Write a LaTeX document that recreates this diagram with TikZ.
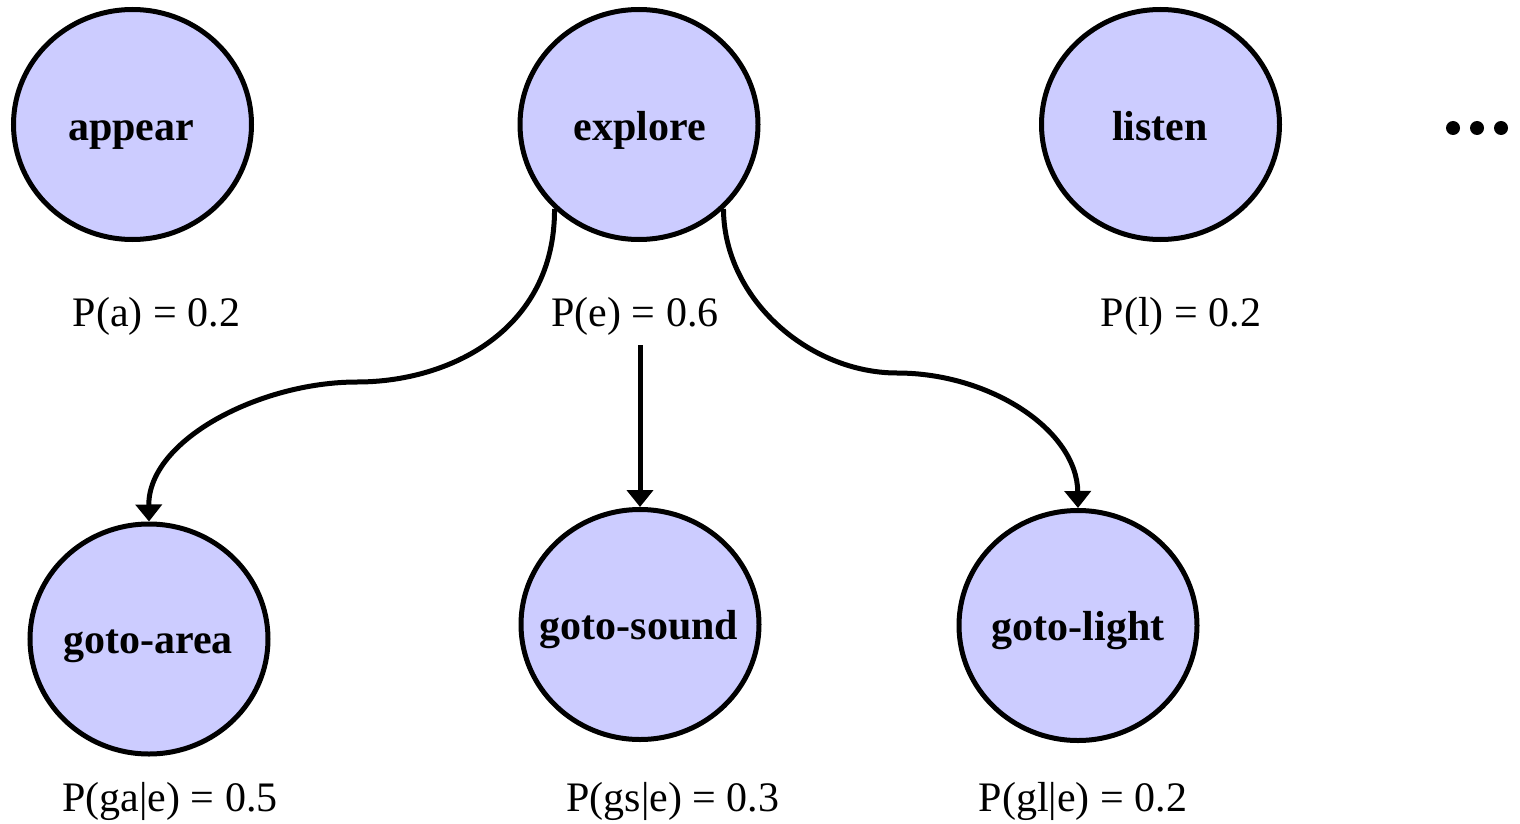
\documentclass[tikz,border=0pt]{standalone}
\usepackage{fontspec}
\setmainfont{Liberation Serif}
\usetikzlibrary{shapes.geometric,arrows.meta}
\definecolor{nodefill}{RGB}{204,204,255}
\begin{document}
\begin{tikzpicture}[x=1pt,y=-1pt,
  state/.style={ellipse,draw=black,line width=5pt,fill=nodefill,
    minimum width=238pt,minimum height=230pt,inner sep=0pt},
  actname/.style={font=\fontsize{42}{50}\selectfont\bfseries,anchor=base,inner sep=0pt},
  prob/.style={font=\fontsize{42}{50}\selectfont,anchor=base,inner sep=0pt},
  link/.style={line width=5pt,-{Triangle[width=26pt,length=17pt]}}]
\useasboundingbox (0,0) rectangle (1520,824);

% top-level actions
\node[state] (appear)  at (132.5,124.5) {};
\node[state] (explore) at (639,124.5) {};
\node[state] (listen)  at (1160.5,124.5) {};
\node[actname] (appear-t)  at (131,141) {appear};
\node[actname] (explore-t) at (640,140) {explore};
\node[actname] (listen-t)  at (1160,140) {listen};

% continuation dots
\fill (1453,128) circle (7pt);
\fill (1477,128) circle (7pt);
\fill (1501,128) circle (7pt);

% sub-actions of explore
\node[state] (ga) at (149,639) {};
\node[state] (gs) at (640,624.5) {};
\node[state] (gl) at (1078,625.5) {};
\node[actname] (ga-t) at (148,653) {goto-area};
\node[actname] (gs-t) at (639,639) {goto-sound};
\node[actname] (gl-t) at (1078,640) {goto-light};

% probabilities
\node[prob] (pa) at (156.5,326) {P(a) = 0.2};
\node[prob] (pe) at (635,326) {P(e) = 0.6};
\node[prob] (pl) at (1181,326) {P(l) = 0.2};
\node[prob] (pga) at (170,811) {P(ga|e) = 0.5};
\node[prob] (pgs) at (673,811) {P(gs|e) = 0.3};
\node[prob] (pgl) at (1083,811) {P(gl|e) = 0.2};

% connectors
\coordinate (lbend) at (357,382);
\coordinate (rbend) at (897,373);
\coordinate (estart) at (640,345);
\draw[link] (explore.225) .. controls (555,330) and (450,382) .. (lbend)
  .. controls (260,382) and (148,440) .. (ga.north);
\draw[link] (explore.315) .. controls (724,300) and (810,373) .. (rbend)
  .. controls (990,373) and (1077,430) .. (gl.north);
\draw[link] (estart) -- (gs.north);
\end{tikzpicture}
\end{document}
